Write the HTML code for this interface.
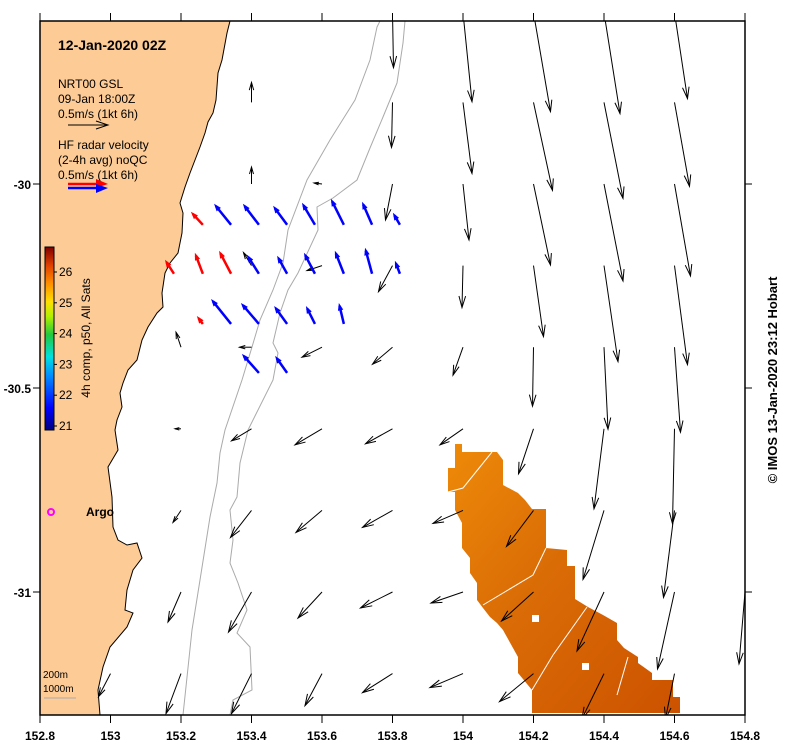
<!DOCTYPE html>
<html><head><meta charset="utf-8"><style>
body{margin:0;background:#fff;}
svg{display:block;font-family:"Liberation Sans",sans-serif;}
</style></head><body>
<svg id="map" width="789" height="750" viewBox="0 0 789 750" xmlns="http://www.w3.org/2000/svg">
<defs>
<linearGradient id="jet" x1="0" y1="1" x2="0" y2="0">
<stop offset="0" stop-color="#00007f"/><stop offset="0.12" stop-color="#0000ff"/>
<stop offset="0.3" stop-color="#0090ff"/><stop offset="0.4" stop-color="#00e0e0"/>
<stop offset="0.52" stop-color="#20c840"/><stop offset="0.62" stop-color="#b0f000"/>
<stop offset="0.7" stop-color="#ffe000"/><stop offset="0.8" stop-color="#ff9000"/>
<stop offset="0.9" stop-color="#e04000"/><stop offset="1" stop-color="#800000"/>
</linearGradient>
<linearGradient id="sstg" x1="0" y1="0" x2="1" y2="1">
<stop offset="0" stop-color="#ee8a08"/><stop offset="0.45" stop-color="#da6c06"/><stop offset="1" stop-color="#cc5200"/>
</linearGradient>
<clipPath id="plotclip"><rect x="40" y="21" width="705" height="694"/></clipPath>
</defs>
<g id="plot" clip-path="url(#plotclip)">
<polygon fill="#fccb96" stroke="#000" stroke-width="1"
 points="40,21 230,21 227,33 222,60 218,73 216,100 213,113 208,122 205,133 200,147 195,160 190,173 185,187 180,203 183,213 182,233 178,253 170,263 165,273 162,293 163,307 157,313 148,327 142,340 137,360 128,370 123,383 120,393 122,407 117,420 115,430 118,450 108,467 112,497 113,527 118,540 127,545 137,543 142,558 133,570 127,590 125,610 133,613 127,627 110,647 103,667 98,690 100,715 40,715"/>
<polyline fill="none" stroke="#aaa" stroke-width="1"
 points="380,21 377,27 370,60 355,100 330,140 307,180 288,230 283,263 273,290 260,320 252,347 242,380 225,430 220,453 217,483 210,517 200,580 192,630 183,715"/>
<polyline fill="none" stroke="#aaa" stroke-width="1"
 points="405,21 403,43 397,83 383,117 370,148 357,180 333,198 317,207 318,230 298,273 288,290 280,313 273,343 278,353 273,380 248,430 240,463 237,497 230,510 233,540 230,563 238,583 247,610 237,633 250,647 252,690 233,700 230,715"/>
<polygon fill="url(#sstg)"
 points="455,444 462,444 462,452 497,452 503,460 503,485 518,493 525,500 532,509 546,509 546,548 567,550 567,566 575,566 575,599 588,607 603,615 617,623 617,640 624,648 638,657 638,663 652,673 652,680 673,680 673,697 680,697 680,713 532,713 532,690 518,673 518,657 503,630 497,623 490,617 483,608 477,600 477,583 470,573 470,558 462,548 462,523 455,510 455,492 448,492 448,468 455,468"/>
<g fill="none" stroke="#fff" stroke-width="1">
<polyline points="448,492 463,488 492,452"/><polyline points="483,605 533,575 546,548"/>
<polyline points="532,690 553,655 587,607"/><polyline points="617,695 628,657"/>
</g>
<rect x="532" y="615" width="7" height="7" fill="#fff"/>
<rect x="582" y="663" width="7" height="7" fill="#fff"/>
<g id="blackArrows"></g>
<g id="radarArrows"></g>
</g>
<rect x="40" y="21" width="705" height="694" fill="none" stroke="#000" stroke-width="1.5"/>
<g id="axes"></g>
<g>
<text x="58" y="50" font-size="14" font-weight="bold">12-Jan-2020 02Z</text>
<text x="58" y="88" font-size="12">NRT00 GSL</text>
<text x="58" y="103" font-size="12">09-Jan 18:00Z</text>
<text x="58" y="118" font-size="12">0.5m/s (1kt 6h)</text>
<g stroke="#000" fill="none" stroke-width="1"><line x1="68" y1="125" x2="108" y2="125"/><polyline points="96,121 108,125 96,129"/></g>
<text x="58" y="149" font-size="12">HF radar velocity</text>
<text x="58" y="164" font-size="12">(2-4h avg) noQC</text>
<text x="58" y="179" font-size="12">0.5m/s (1kt 6h)</text>
<g><line x1="68" y1="184" x2="104" y2="184" stroke="#f00" stroke-width="2.5"/><polygon points="96,179 108,184 96,188" fill="#f00"/>
<line x1="68" y1="188" x2="104" y2="188" stroke="#00f" stroke-width="2.5"/><polygon points="96,184 108,188 96,193" fill="#00f"/></g>
</g>
<g>
<rect x="45" y="247" width="9" height="183" fill="url(#jet)" stroke="#000" stroke-width="1"/>
<g font-size="12" id="cbticks"></g>
<text transform="translate(90,338) rotate(-90)" text-anchor="middle" font-size="12">4h comp, p50, All Sats</text>
</g>
<g><circle cx="51" cy="512" r="3" fill="none" stroke="#f0f" stroke-width="2"/>
<text x="86" y="516" font-size="12" font-weight="bold">Argo</text></g>
<g font-size="10">
<text x="43" y="678">200m</text><text x="43" y="692">1000m</text>
<line x1="44" y1="698" x2="76" y2="698" stroke="#aaa"/></g>
<text transform="translate(777,380) rotate(-90)" text-anchor="middle" font-size="13" font-weight="bold">© IMOS 13-Jan-2020 23:12 Hobart</text>
</svg>
<script>
// model grid (NRT00 GSL), velocities in units of 1.25 cm/s (80 units = 1 m/s); u east, v north
const gridLons = [153.0,153.2,153.4,153.6,153.8,154.0,154.2,154.4,154.6,154.8];
const gridLats = [-29.58,-29.8,-30.0,-30.2,-30.4,-30.6,-30.8,-31.0,-31.2];
const uModel = [
 [null,null,null,null,1,9,17,16,13,null],
 [null,null,0,null,-1,9,19,19,15,null],
 [null,null,0,-8,-7,6,17,19,16,null],
 [null,null,-8,-15,-14,-1,10,14,13,null],
 [null,-5,-12,-20,-20,-10,-1,4,6,null],
 [null,-6,-20,-27,-27,-23,-15,-10,-2,null],
 [null,-8,-21,-26,-30,-30,-27,-21,-11,null],
 [null,-13,-23,-24,-32,-32,-32,-27,-17,-6],
 [-12,-15,-20,-17,-30,-33,-34,-22,-9,null]];
const vModel = [
 [null,null,null,null,-55,-89,-99,-101,-86,null],
 [null,null,20,null,-45,-71,-88,-96,-84,null],
 [null,null,17,1,-36,-56,-81,-97,-92,null],
 [null,null,13,-5,-26,-42,-71,-96,-99,null],
 [null,15,0,-10,-17,-28,-59,-82,-85,null],
 [null,0,-12,-16,-15,-16,-45,-80,-95,null],
 [null,-12,-27,-22,-17,-13,-36,-69,-87,null],
 [null,-30,-40,-26,-16,-11,-29,-59,-77,-72],
 [-23,-40,-40,-32,-19,-14,-28,-45,-45,null]];
// HF radar: positions and velocities (same units)
const radarLon = [153.262,153.342,153.421,153.501,153.58,153.662,153.742,153.821, 153.18,153.262,153.342,153.421,153.501,153.58,153.662,153.742,153.821, 153.262,153.342,153.421,153.501,153.58,153.662, 153.421,153.501];
const radarLat = [-30.1,-30.1,-30.1,-30.1,-30.1,-30.1,-30.1,-30.1, -30.22,-30.22,-30.22,-30.22,-30.22,-30.22,-30.22,-30.22,-30.22, -30.343,-30.343,-30.343,-30.343,-30.343,-30.343, -30.463,-30.463];
const radarU = [-12,-17,-16,-14,-13,-13,-10,-7, -9,-8,-12,-12,-10,-11,-9,-7,-5, -6,-20,-18,-13,-9,-5, -17,-12];
const radarV = [13,21,21,19,22,26,23,12, 14,21,23,19,18,21,23,26,13, 8,25,21,18,18,21, 19,17];
const radarQC = ['r','b','b','b','b','b','b','b', 'r','r','r','b','b','b','b','b','b', 'r','b','b','b','b','b', 'b','b'];
const xTicks = [152.8,153,153.2,153.4,153.6,153.8,154,154.2,154.4,154.6,154.8];
const yTicks = [-30,-30.5,-31];
const cbTicks = [21,22,23,24,25,26];

const NS='http://www.w3.org/2000/svg';
const X = lon => 40 + (lon-152.8)*352.5;
const Y = lat => 184 + (-30-lat)*408;
const PX = 1; // px per velocity unit
const CBY = t => 426 - (t-21)*30.8;
function mk(tag, attrs, parent){const e=document.createElementNS(NS,tag);for(const k in attrs)e.setAttribute(k,attrs[k]);parent.appendChild(e);return e;}

const bg=document.getElementById('blackArrows');
for(let r=0;r<gridLats.length;r++)for(let c=0;c<gridLons.length;c++){
 const u=uModel[r][c], v=vModel[r][c]; if(u===null) continue;
 const x0=X(gridLons[c]), y0=Y(gridLats[r]), x1=x0+u*PX, y1=y0-v*PX;
 const L=Math.hypot(x1-x0,y1-y0); if(L<1) continue;
 const g=mk('g',{stroke:'#000','stroke-width':1,fill:'none'},bg);
 
 
 mk('line',{x1:x0,y1:y0,x2:x1,y2:y1},g);
 const h=Math.min(12,0.25*L+3), a=Math.atan2(y1-y0,x1-x0);
 mk('polyline',{points:`${x1-h*Math.cos(a-0.28)},${y1-h*Math.sin(a-0.28)} ${x1},${y1} ${x1-h*Math.cos(a+0.28)},${y1-h*Math.sin(a+0.28)}`},g);
}
const rg=document.getElementById('radarArrows');
for(let i=0;i<radarLon.length;i++){
 const x0=X(radarLon[i]), y0=Y(radarLat[i]), x1=x0+radarU[i]*PX, y1=y0-radarV[i]*PX;
 const col=radarQC[i]==='r'?'#f00':'#00f';
 const g=mk('g',{},rg);
 
 
 const a=Math.atan2(y1-y0,x1-x0), h=8;
 mk('line',{x1:x0,y1:y0,x2:x1-3*Math.cos(a),y2:y1-3*Math.sin(a),stroke:col,'stroke-width':2.5},g);
 mk('polygon',{points:`${x1},${y1} ${x1-h*Math.cos(a-0.35)},${y1-h*Math.sin(a-0.35)} ${x1-h*Math.cos(a+0.35)},${y1-h*Math.sin(a+0.35)}`,fill:col},g);
}
const ax=document.getElementById('axes');
xTicks.forEach(t=>{
 const x=X(t);
 const l1=mk('line',{x1:x,y1:715,x2:x,y2:723,stroke:'#000'},ax);
 
 
 mk('line',{x1:x,y1:13,x2:x,y2:21,stroke:'#000'},ax);
 const tx=mk('text',{x:x,y:740,'text-anchor':'middle','font-size':12,'font-weight':'bold'},ax);
 tx.textContent=String(t);
 
 
});
yTicks.forEach(t=>{
 const y=Y(t);
 mk('line',{x1:33,y1:y,x2:40,y2:y,stroke:'#000'},ax);
 mk('line',{x1:745,y1:y,x2:752,y2:y,stroke:'#000'},ax);
 const tx=mk('text',{x:31,y:y+5,'text-anchor':'end','font-size':12,'font-weight':'bold'},ax);
 tx.textContent=String(t);
 
 
});
const cb=document.getElementById('cbticks');
cbTicks.forEach(t=>{
 const y=CBY(t);
 mk('line',{x1:54,y1:y,x2:57,y2:y,stroke:'#000'},cb);
 const tx=mk('text',{x:59,y:y+4},cb);
 tx.textContent=String(t);
 
 
});
</script>
</body></html>
